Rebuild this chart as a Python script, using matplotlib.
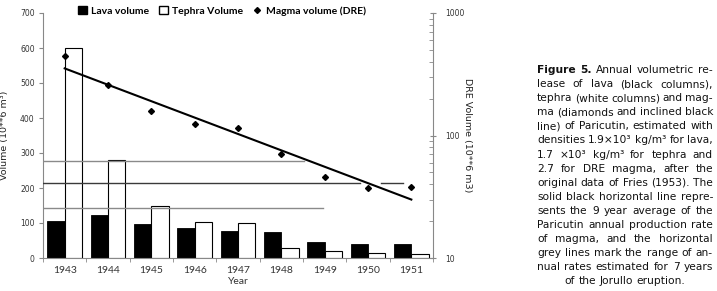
#!/usr/bin/python3
"""Annual volumetric release of lava, tephra and magma at Paricutin"""

import matplotlib
matplotlib.use('Agg')
from matplotlib import pyplot as plt
from matplotlib.patches import Patch
from matplotlib.lines import Line2D
import numpy as np

years = ['1943', '1944', '1945', '1946', '1947', '1948', '1949', '1950', '1951']
lava = [106, 122, 98, 87, 78, 74, 47, 39, 41]
tephra = [600, 281, 148, 102, 99, 28, 20, 13, 11]
magma = [448, 259, 159, 124, 116, 71, 46, 37, 38]

# regression line for magma (DRE), end points
trend_x = [0, 8]
trend_y = [353, 30]

# Paricutin 9 year average (black) and Jorullo range (grey), left axis units
avg_rate = 213
avg_spans = [(-0.5, 6.82), (7.30, 7.81)]
jorullo_rates = [277, 142]
jorullo_ends = [5.52, 5.95]

caption = [
    "Figure 5. Annual volumetric re-",
    "lease of lava (black columns),",
    "tephra (white columns) and mag-",
    "ma (diamonds and inclined black",
    "line) of Paricutin, estimated with",
    "densities 1.9\u00d710\u00b3 kg/m\u00b3 for lava,",
    "1.7 \u00d710\u00b3 kg/m\u00b3 for tephra and",
    "2.7 for DRE magma, after the",
    "original data of Fries (1953). The",
    "solid black horizontal line repre-",
    "sents the 9 year average of the",
    "Paricutin annual production rate",
    "of magma, and the horizontal",
    "grey lines mark the range of an-",
    "nual rates estimated for 7 years",
    "of the Jorullo eruption.",
]


def justified(fig, lines, x0, x1, ytop, dy, size):
    """Write a justified block of text in pixel coords"""
    W, H = fig.get_size_inches() * fig.dpi
    renderer = fig.canvas.get_renderer()
    for i, line in enumerate(lines):
        words = line.split()
        y = (H - ytop - i * dy) / H
        texts = []
        for j, w in enumerate(words):
            bold = (i == 0 and j < 2)
            texts.append(fig.text(0, y, w, fontsize=size, va='center',
                                  family='DejaVu Sans', color='#111111',
                                  fontweight='bold' if bold else 'normal'))
        widths = [t.get_window_extent(renderer).width for t in texts]
        space = size * fig.dpi / 72 * 0.32
        if i == len(lines) - 1:
            total = sum(widths) + space * (len(words) - 1)
            x = (x0 + x1) / 2 - total / 2
            gap = space
        else:
            x = x0
            gap = ((x1 - x0) - sum(widths)) / (len(words) - 1)
        for t, w in zip(texts, widths):
            t.set_x(x / W)
            x += w + gap


fig = plt.figure(figsize=(7.17, 2.91), dpi=100)
ax = fig.add_axes([43 / 717, 1 - 258 / 291, 390 / 717, 245 / 291])
x = np.arange(len(years))

ax.bar(x - 0.2, lava, 0.4, color='black', edgecolor='black', lw=0.6, zorder=2)
ax.bar(x + 0.2, tephra, 0.4, color='white', edgecolor='black', lw=0.8, zorder=2)

for x0, x1 in avg_spans:
    ax.plot([x0, x1], [avg_rate, avg_rate], color='#3a3a3a', lw=1.0, zorder=3)
for rate, x1 in zip(jorullo_rates, jorullo_ends):
    ax.plot([-0.5, x1], [rate, rate], color='#8a8a8a', lw=1.0, zorder=3)

ax.set_xlim(-0.5, 8.5)
ax.set_ylim(0, 700)
ax.set_yticks(range(0, 701, 100))
ax.set_xticks(x)
ax.set_xticklabels(years, family='Lato', fontsize=7.5, color='#333333')
ax.set_xticks(np.arange(-0.5, 9, 1), minor=True)
ax.tick_params(axis='x', which='major', length=0, pad=6)
ax.tick_params(axis='x', which='minor', length=3, color='#888888')
ax.tick_params(axis='y', length=3, color='#888888', labelsize=5.5,
               labelcolor='#333333', pad=3)
for spine in ('top', 'right'):
    ax.spines[spine].set_visible(False)
for spine in ('left', 'bottom'):
    ax.spines[spine].set_color('#888888')
ax.set_xlabel('Year', family='Lato', fontsize=7.5, color='#333333', labelpad=1)
ax.set_ylabel('Volume (10**6 m\u00b3)', fontsize=6.8, color='#222222')
ax.yaxis.set_label_coords(-0.088, 0.5)

ax2 = ax.twinx()
ax2.set_yscale('log')
ax2.set_ylim(10, 1000)
ax2.plot(x, magma, 'D', color='black', markersize=3, zorder=4)
ax2.plot(trend_x, trend_y, color='black', lw=1.5, zorder=4)
for spine in ('top', 'left', 'bottom'):
    ax2.spines[spine].set_visible(False)
ax2.spines['right'].set_color('#888888')
ax2.tick_params(axis='y', which='major', direction='inout', length=5,
                color='#888888', labelsize=5.5, labelcolor='#333333', pad=6)
ax2.tick_params(axis='y', which='minor', direction='in', length=3, color='#888888')
ax2.yaxis.set_major_formatter(matplotlib.ticker.FormatStrFormatter('%d'))
fig.text(467 / 717, 1 - 135 / 291, 'DRE Volume (10**6 m3)', rotation=270,
         ha='center', va='center', fontsize=6.8, color='#222222')

handles = [Patch(facecolor='black', edgecolor='black'),
           Patch(facecolor='white', edgecolor='black'),
           Line2D([], [], marker='D', color='black', ls='none', markersize=3)]
labels = ['Lava volume', 'Tephra Volume', 'Magma volume (DRE)']
fig.legend(handles, labels, loc='center', bbox_to_anchor=(222 / 717, 1 - 11 / 291),
           ncol=3, frameon=False, handlelength=0.8, handleheight=0.8,
           handletextpad=0.4, columnspacing=1.0,
           prop={'family': 'Lato', 'size': 7.5, 'weight': 'bold'})

justified(fig, caption, 537, 713, 70, 14.1, 7.7)

plt.savefig('out.png', dpi=100)
